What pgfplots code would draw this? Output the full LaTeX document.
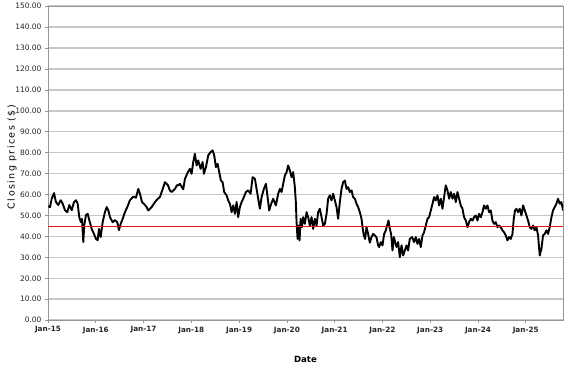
\documentclass[border=0pt]{standalone}
\usepackage{fontspec}
\setmainfont{DejaVu Sans}
\usepackage{pgfplots}
\pgfplotsset{compat=1.18}
\usetikzlibrary{calc}
\definecolor{gridgray}{RGB}{200,200,200}
\definecolor{axisgray}{RGB}{150,150,150}
\definecolor{refred}{RGB}{230,20,20}
\begin{document}
\begin{tikzpicture}
\begin{axis}[
  scale only axis,
  width=515bp, height=314bp,
  xmin=2015, xmax=2025.78,
  ymin=0, ymax=150,
  ytick={0,10,...,150},
  xtick={2015,2016,...,2025},
  xticklabels={Jan-15,Jan-16,Jan-17,Jan-18,Jan-19,Jan-20,Jan-21,Jan-22,Jan-23,Jan-24,Jan-25},
  /pgf/number format/assume math mode=true,
  yticklabel style={/pgf/number format/.cd,fixed,fixed zerofill,precision=2},
  scaled y ticks=false,
  ticklabel style={font=\fontsize{7.5}{8}\selectfont, text=black!85},
  xticklabel style={font=\fontsize{7.3}{8}\selectfont\bfseries, text=black!85},
  tick align=outside,
  major tick length=3bp,
  tick style={axisgray, line width=0.6bp},
  xtick pos=bottom, ytick pos=left,
  axis line style={axisgray, line width=0.8bp},
  ymajorgrids,
  major grid style={gridgray, line width=1.5bp},
  xlabel={Date},
  ylabel={Closing prices (\$)},
  every axis x label/.style={at={(axis description cs:0.5,0)}, anchor=center, yshift=-39bp, font=\fontsize{8.6}{10}\selectfont\bfseries},
  every axis y label/.style={at={(axis description cs:0,0.5)}, xshift=-36bp, yshift=6bp, rotate=90, anchor=center, font=\fontsize{9.5}{10}\selectfont\addfontfeature{LetterSpace=15}},
  clip=true,
]
\addplot[black, line width=1.9bp, line join=round] table {
2015.006 54.5
2015.042 54
2015.077 58
2015.126 60.7
2015.167 56.4
2015.215 55
2015.266 57.3
2015.308 55.6
2015.356 52.5
2015.404 51.6
2015.446 55
2015.496 52.5
2015.544 56.4
2015.586 57.3
2015.621 55.6
2015.655 49.2
2015.690 46.8
2015.711 48.4
2015.739 37.3
2015.759 45.4
2015.795 50.2
2015.831 50.8
2015.864 47.8
2015.914 43.6
2015.962 41.2
2016.004 38.8
2016.040 38.2
2016.067 43.6
2016.103 39.7
2016.144 46.8
2016.192 51.6
2016.228 54
2016.262 52.5
2016.297 49.2
2016.354 46.8
2016.402 47.8
2016.450 46.8
2016.485 43
2016.521 46
2016.563 48.4
2016.611 51.6
2016.659 54
2016.716 57.3
2016.785 59
2016.841 58.5
2016.889 62.7
2016.925 60.4
2016.967 56.4
2017.008 55.6
2017.065 54
2017.098 52.4
2017.169 54
2017.239 56.4
2017.300 58
2017.343 58.8
2017.406 63
2017.448 65.9
2017.510 64.5
2017.550 62
2017.588 61.2
2017.657 62.7
2017.700 64.5
2017.726 64.4
2017.762 65.1
2017.831 62.5
2017.866 67.5
2017.929 70.7
2017.971 72.3
2018.006 69.9
2018.040 75.5
2018.075 79.5
2018.111 73.9
2018.144 76.3
2018.195 72.3
2018.236 75.5
2018.264 69.9
2018.306 73.1
2018.354 78.7
2018.404 80.3
2018.446 81.1
2018.479 78.7
2018.515 73.1
2018.550 74.7
2018.584 70.7
2018.619 66.7
2018.655 65.9
2018.688 61.2
2018.739 59.6
2018.772 57.2
2018.808 55.6
2018.843 51.6
2018.877 54.8
2018.912 50.8
2018.948 56.4
2018.981 49.2
2019.017 54
2019.052 56.4
2019.086 58
2019.142 61.2
2019.190 62
2019.241 60.4
2019.283 68.3
2019.331 67.5
2019.366 62.7
2019.400 58
2019.435 53.2
2019.471 58.8
2019.519 62.7
2019.561 65.1
2019.588 60.4
2019.630 52.4
2019.672 55.6
2019.714 58
2019.770 54.8
2019.818 60.4
2019.854 62.7
2019.889 61.2
2019.923 65.1
2019.958 69.1
2019.994 70.7
2020.027 73.9
2020.063 71.5
2020.098 68.3
2020.132 70.7
2020.167 63.5
2020.188 56.4
2020.203 46.8
2020.224 38.8
2020.245 45.2
2020.266 38.1
2020.287 48.4
2020.314 44.4
2020.341 49.2
2020.377 46
2020.412 51.6
2020.446 49.2
2020.481 45.2
2020.517 49.2
2020.550 43.6
2020.586 48.4
2020.621 45.2
2020.655 51.6
2020.690 53.2
2020.726 49.2
2020.760 45.2
2020.795 46
2020.831 50.8
2020.864 58
2020.900 59.6
2020.935 57.2
2020.969 60.4
2021.004 57.2
2021.040 54
2021.073 48.4
2021.109 56.4
2021.144 62.7
2021.178 65.9
2021.214 66.7
2021.249 62.7
2021.283 63.5
2021.318 61.2
2021.354 62
2021.387 58.8
2021.423 58
2021.458 55.6
2021.492 54
2021.527 51.6
2021.563 48.4
2021.584 44.4
2021.611 40.5
2021.638 38.8
2021.667 44.4
2021.701 41.2
2021.736 37
2021.772 39.7
2021.806 41.2
2021.841 40.5
2021.877 39.5
2021.910 35.7
2021.931 34.9
2021.967 37.3
2022.002 35.7
2022.036 41.2
2022.071 42.9
2022.098 45.2
2022.128 47.6
2022.155 43.6
2022.182 41.2
2022.211 33.3
2022.239 39.7
2022.266 37.3
2022.295 34.9
2022.329 37.3
2022.364 30.1
2022.400 35.7
2022.433 30.9
2022.469 33.3
2022.504 35.7
2022.538 33.3
2022.573 38.8
2022.621 39.7
2022.663 37.3
2022.699 39.7
2022.734 36.4
2022.768 38.8
2022.803 34.9
2022.839 40.5
2022.872 42
2022.908 45.2
2022.944 48.4
2022.977 49.2
2023.013 52.4
2023.048 55.6
2023.082 58.8
2023.117 57.2
2023.153 59.6
2023.186 54.8
2023.222 58
2023.257 53.2
2023.291 58.8
2023.326 64.4
2023.362 62
2023.396 58
2023.431 61.2
2023.467 58
2023.500 60.4
2023.536 56.4
2023.571 61.2
2023.605 58
2023.640 54.8
2023.676 53.2
2023.709 49.2
2023.745 47.6
2023.781 44.4
2023.814 46.8
2023.850 48.4
2023.885 47.6
2023.919 49.2
2023.954 50
2023.990 47.6
2024.023 50.8
2024.059 49.2
2024.094 51.6
2024.128 54.8
2024.163 53.2
2024.199 54.8
2024.232 51.6
2024.268 52.4
2024.303 47.6
2024.337 46
2024.373 46.8
2024.408 44.4
2024.442 45.2
2024.477 44.4
2024.513 42.9
2024.546 42
2024.582 40.5
2024.617 38.1
2024.651 39.7
2024.686 38.8
2024.722 41.2
2024.749 48.4
2024.776 52.4
2024.806 53.2
2024.839 51.6
2024.875 53.2
2024.910 50
2024.944 54.8
2024.979 52.4
2025.015 50
2025.048 47.6
2025.084 44.4
2025.119 43.6
2025.153 45.2
2025.188 42.9
2025.224 44.4
2025.258 40.5
2025.293 30.9
2025.329 34.1
2025.362 40.5
2025.398 41.2
2025.433 42.9
2025.467 41.2
2025.502 44.4
2025.538 49.2
2025.571 52.4
2025.607 54
2025.642 55.6
2025.676 58
2025.711 55.6
2025.747 56.4
2025.781 52.4
};
\addplot[refred, line width=1.2bp] coordinates {(2015,44.8) (2025.78,44.8)};
\end{axis}
\path ($(current axis.south west)+(-48bp,-49bp)$) rectangle ($(current axis.north east)+(14bp,4bp)$);
\end{tikzpicture}
\end{document}
